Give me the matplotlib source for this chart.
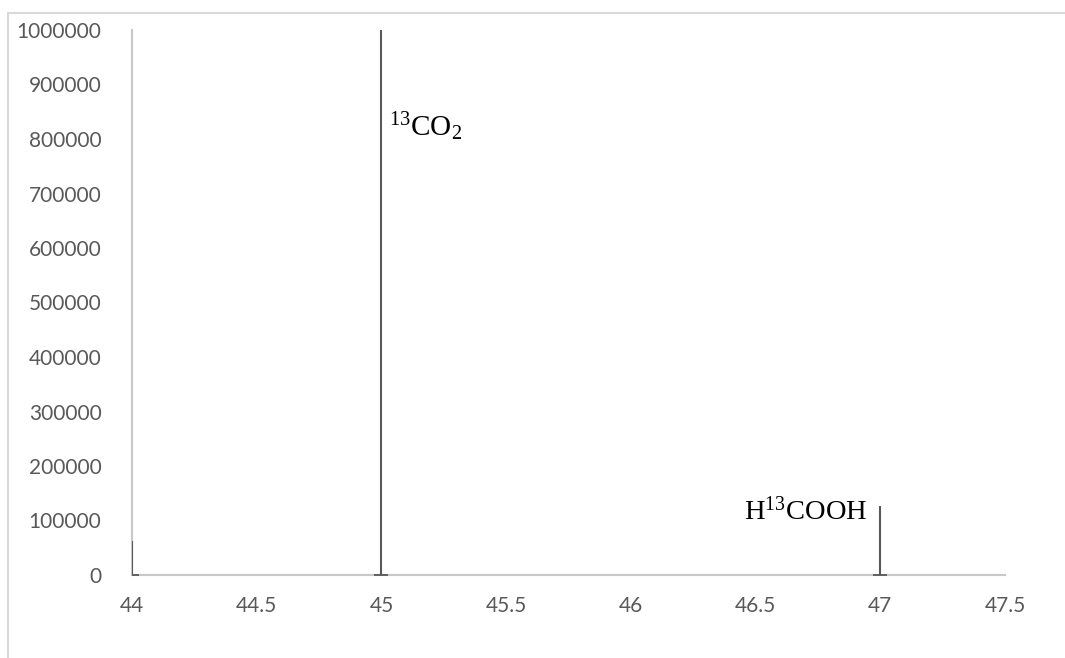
import matplotlib
matplotlib.use("Agg")
import matplotlib.pyplot as plt
from matplotlib.patches import Rectangle

mz = [44, 45, 47]
intensity = [62000, 1000000, 127000]
x_ticks = [44, 44.5, 45, 45.5, 46, 46.5, 47, 47.5]
y_ticks = [0, 100000, 200000, 300000, 400000, 500000, 600000, 700000, 800000, 900000, 1000000]

plt.rcParams['mathtext.fontset'] = 'custom'
plt.rcParams['mathtext.rm'] = 'Liberation Serif'
plt.rcParams['mathtext.it'] = 'Liberation Serif:italic'

fig = plt.figure(figsize=(10.65, 6.58), dpi=100)
fig.patches.append(Rectangle((8/1065, -0.2), 1.2, 1.2 - 13/658, transform=fig.transFigure,
                             fill=False, edgecolor='#d9d9d9', linewidth=1.5))
ax = fig.add_axes([132/1065, 83/658, 873/1065, 545/658])

ax.vlines(mz, 0, intensity, colors='#595959', linewidth=1.5, zorder=3)
ax.plot(mz, [0]*len(mz), linestyle='none', marker='_', markersize=10,
        markeredgewidth=1.3, color='#595959', zorder=3, clip_on=True)

ax.set_xlim(44, 47.5)
ax.set_ylim(0, 1000000)
ax.set_xticks(x_ticks)
ax.set_xticklabels([f"{v:g}" for v in x_ticks])
ax.set_yticks(y_ticks)
ax.set_yticklabels([str(v) for v in y_ticks])
ax.tick_params(length=0, labelsize=15, labelcolor='#595959', pad=22)
ax.tick_params(axis='x', pad=15)
for lab in ax.get_xticklabels() + ax.get_yticklabels():
    lab.set_fontfamily('Lato')
for s in ['top', 'right']:
    ax.spines[s].set_visible(False)
for s in ['left', 'bottom']:
    ax.spines[s].set_color('#c8c8c8')
    ax.spines[s].set_linewidth(1.5)

ax.text(45.03, 822000, r'$\mathrm{^{13}CO_2}$', fontsize=21, color='black',
        ha='left', va='center')
ax.text(46.95, 102000, r'$\mathrm{H^{13}COOH}$', fontsize=20.5, color='black',
        ha='right', va='baseline')

fig.savefig('out.png', dpi=100)
